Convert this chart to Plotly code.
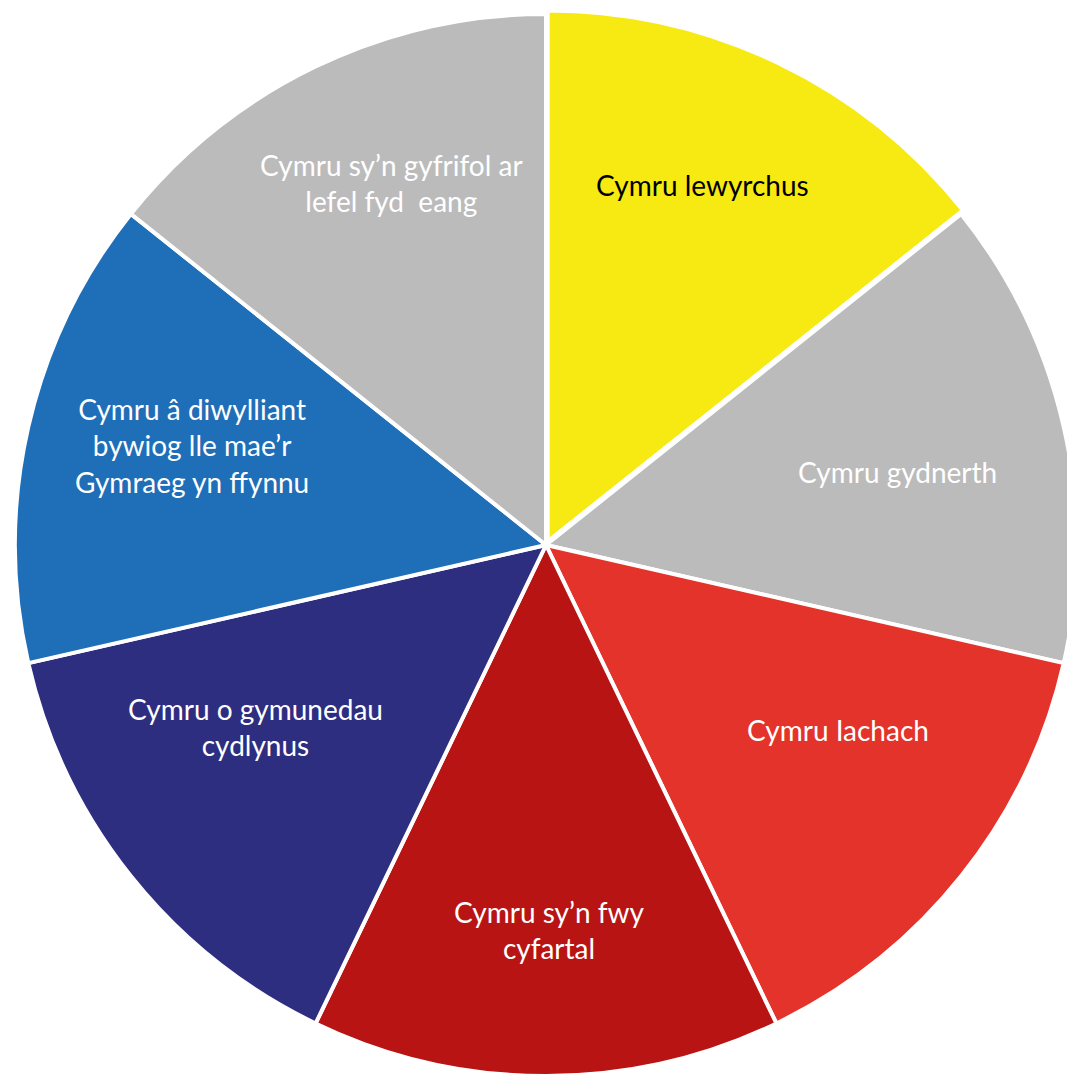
import plotly.graph_objects as go

labels = [
    "Cymru lewyrchus",
    "Cymru gydnerth",
    "Cymru Iachach",
    "Cymru sy’n fwy cyfartal",
    "Cymru o gymunedau cydlynus",
    "Cymru â diwylliant bywiog lle mae’r Gymraeg yn ffynnu",
    "Cymru sy’n gyfrifol ar lefel fyd eang",
]
display_text = [
    "Cymru lewyrchus",
    "Cymru gydnerth",
    "Cymru Iachach",
    "Cymru sy’n fwy<br>cyfartal",
    "Cymru o gymunedau<br>cydlynus",
    "Cymru â diwylliant<br>bywiog lle mae’r<br>Gymraeg yn ffynnu",
    "Cymru sy’n gyfrifol ar<br>lefel fyd  eang",
]
values = [1, 1, 1, 1, 1, 1, 1]

# styles / layout (not data)
colors = ["#F7E912", "#BBBBBB", "#E3332A", "#B81414", "#2E2E80", "#1F6EB8", "#BBBBBB"]
text_colors = ["#000000", "#FFFFFF", "#FFFFFF", "#FFFFFF", "#FFFFFF", "#FFFFFF", "#FFFFFF"]
pulls = [0.0075, 0, 0, 0, 0, 0, 0]
# label centres in page pixels (x from left, y from top)
label_px = [(702, 185), (897, 472), (838, 730), (549, 930), (255, 727), (192, 445), (391, 183)]

W, H = 1090, 1090
FONT = "Lato, Calibri, sans-serif"

fig = go.Figure(go.Pie(
    labels=labels,
    values=values,
    textinfo="none",
    marker=dict(colors=colors, line=dict(color="#FFFFFF", width=4)),
    sort=False,
    direction="clockwise",
    rotation=0,
    pull=pulls,
    hoverinfo="label",
    showlegend=False,
    domain=dict(x=[11 / W, 1081 / W], y=[10 / H, 1080 / H]),
))

for txt, col, (px, py) in zip(display_text, text_colors, label_px):
    fig.add_annotation(
        x=px / W, y=1 - py / H, xref="paper", yref="paper",
        text=txt, showarrow=False, xanchor="center", yanchor="middle",
        align="center", font=dict(family=FONT, size=28, color=col),
    )

fig.update_layout(
    width=W,
    height=H,
    margin=dict(l=0, r=0, t=0, b=0),
    paper_bgcolor="#FFFFFF",
    plot_bgcolor="#FFFFFF",
)

fig.write_html(
    "out.html",
    config={"displayModeBar": False},
    post_script="document.body.style.margin='0';document.body.style.overflow='hidden';",
)
